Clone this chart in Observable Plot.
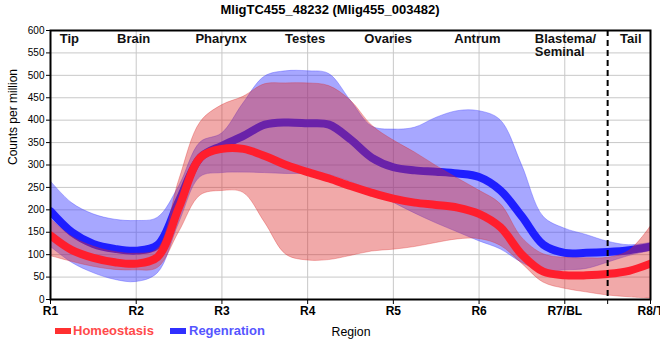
<!DOCTYPE html>
<html><head><meta charset="utf-8">
<script src="https://cdn.jsdelivr.net/npm/d3@7"></script>
<script src="https://cdn.jsdelivr.net/npm/@observablehq/plot@0.6"></script>
<style>
body{margin:0;background:#fff;font-family:"Liberation Sans",Arial,sans-serif;}
#wrap{position:relative;width:660px;height:360px;overflow:hidden;}
#title{position:absolute;left:0;top:0;width:660px;height:20px;line-height:20px;text-align:center;font-weight:bold;font-size:13px;color:#000;}
#chart{position:absolute;left:0;top:20px;}
.sw{position:absolute;width:16px;height:6px;}
.lt{position:absolute;font-size:13px;line-height:13px;font-weight:bold;white-space:nowrap;}
</style></head>
<body><div id="wrap">
<div id="title"></div>
<div id="chart"></div>
<div class="sw" style="left:55px;top:328px;background:#ff3030"></div>
<div class="lt" id="l1" style="left:73px;top:324px;color:#ff4a4a"></div>
<div class="sw" style="left:170px;top:328px;background:#3030ff"></div>
<div class="lt" id="l2" style="left:189px;top:324px;color:#5555ff"></div>
<div class="lt" id="xl" style="left:300px;width:102px;text-align:center;top:326px;color:#000;font-size:12.3px;line-height:12px;font-weight:normal"></div>
</div>
<script>
const titleText = "MligTC455_48232 (Mlig455_003482)";
const seriesNames = ["Homeostasis", "Regenration"];
const xAxisLabel = "Region";
const yAxisLabel = "Counts per million";

const xs = [1,1.25,1.5,1.75,2,2.25,2.5,2.75,3,3.25,3.5,3.75,4,4.25,4.5,4.75,5,5.25,5.5,5.75,6,6.25,6.5,6.75,7,7.25,7.5,7.75,8];

const regenMean = [197,150,124,113,109,122,221,317,343,365,390,395,393,390,357,316,295,288,285,281,273,243,185,122,104,104,106,110,118];
const regenHigh = [264,215,190,178,175,182,252,350,370,437,497,509,509,503,444,386,379,383,405,420,420,400,300,185,158,144,129,121,126];
const regenLow  = [118,82,59,44,39,58,170,273,282,283,282,280,280,277,262,240,216,192,170,150,130,112,82,62,65,68,82,97,108];

const homeoMean = [143,110,93,83,80,95,206,317,336,336,320,300,284,270,253,238,225,216,211,205,191,161,100,62,54,54,57,64,80];
const homeoHigh = [180,140,118,106,102,112,265,395,433,452,480,482,482,476,444,388,355,328,298,270,243,213,138,101,93,92,93,108,162];
const homeoLow  = [97,84,73,66,65,70,150,232,242,238,172,100,87,88,97,107,111,117,126,134,135,120,80,38,24,16,9,5,2];

const tickPos = [1,2,3,4,5,6,7,8];
const tickLabels = ["R1","R2","R3","R4","R5","R6","R7/BL","R8/T"];
const yTicks = [0,50,100,150,200,250,300,350,400,450,500,550,600];
const tailBoundary = [7.5];
const regionNames = ["Tip","Brain","Pharynx","Testes","Ovaries","Antrum","Tail"];
const regionX = [1.22,1.97,2.99,3.97,4.94,5.98,7.77];
const blastemaName = ["Blastema/\nSeminal"];
const blastemaX = [6.65];

document.getElementById("title").textContent = titleText;
document.getElementById("l1").textContent = seriesNames[0];
document.getElementById("l2").textContent = seriesNames[1];
document.getElementById("xl").textContent = xAxisLabel;

const rows = xs.map((x, i) => ({x, rm: regenMean[i], ru: regenHigh[i], rl: regenLow[i], hm: homeoMean[i], hu: homeoHigh[i], hl: homeoLow[i]}));
const regions = regionNames.map((n, i) => ({n, x: regionX[i]}));
const curve = "catmull-rom";

const chart = Plot.plot({
  width: 660, height: 340,
  marginTop: 10, marginLeft: 50, marginRight: 10, marginBottom: 61,
  style: {fontFamily: "'Liberation Sans', Arial, sans-serif", fontSize: "10px", color: "#000", background: "#fff"},
  x: {domain: [1, 8]},
  y: {domain: [0, 600]},
  marks: [
    Plot.gridX(tickPos, {stroke: "#c8c8c8", strokeOpacity: 1, strokeWidth: 1}),
    Plot.gridY(yTicks, {stroke: "#c8c8c8", strokeOpacity: 1, strokeWidth: 1}),
    Plot.areaY(rows, {x: "x", y1: "rl", y2: "ru", curve, fill: "#3c3cff", fillOpacity: 0.45, stroke: "#4a4aff", strokeOpacity: 0.5, strokeWidth: 0.8, clip: "frame"}),
    Plot.lineY(rows, {x: "x", y: "rm", curve, stroke: "#1e1eff", strokeWidth: 8, clip: "frame"}),
    Plot.areaY(rows, {x: "x", y1: "hl", y2: "hu", curve, fill: "#dc2828", fillOpacity: 0.4, stroke: "#dc2828", strokeOpacity: 0.4, strokeWidth: 0.8, clip: "frame"}),
    Plot.lineY(rows, {x: "x", y: "hm", curve, stroke: "#ff1e2d", strokeWidth: 8, clip: "frame"}),
    Plot.ruleX(tailBoundary, {stroke: "#000", strokeWidth: 2, strokeDasharray: "6,4"}),
    Plot.text(regions, {x: "x", text: "n", frameAnchor: "top", lineAnchor: "top", dy: 3, fontSize: 13, fontWeight: "bold", fill: "#111"}),
    Plot.text(blastemaName, {x: blastemaX, text: d => d, frameAnchor: "top", lineAnchor: "top", textAnchor: "start", dy: 3, fontSize: 13, fontWeight: "bold", fill: "#111", lineHeight: 1.0}),
    Plot.frame({stroke: "#000", strokeWidth: 2}),
    Plot.axisY(yTicks, {tickSize: 4, tickPadding: 2, fontSize: 10, label: null, stroke: "#000"}),
    Plot.axisX(tickPos, {tickSize: 5, tickPadding: 2, fontSize: 12, fontWeight: "bold", label: null, stroke: "#000", tickFormat: (d) => tickLabels[tickPos.indexOf(d)]}),
    Plot.axisX(tailBoundary, {tickSize: 5, label: null, stroke: "#000", tickFormat: () => ""}),
    Plot.text([yAxisLabel], {text: d => d, frameAnchor: "left", rotate: -90, dx: -37, fontSize: 12, fill: "#000"})
  ]
});
document.getElementById("chart").appendChild(chart);
</script>
</body></html>
